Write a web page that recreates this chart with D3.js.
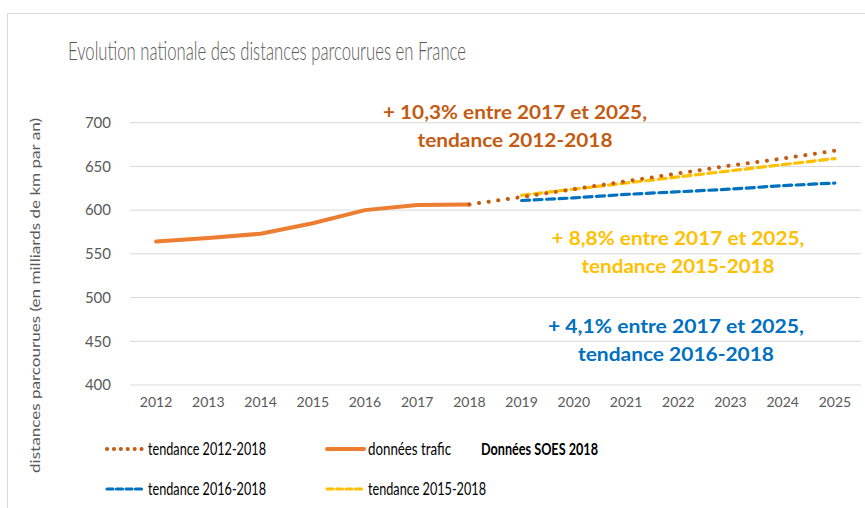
<!DOCTYPE html>
<html>
<head>
<meta charset="utf-8">
<script src="https://cdn.jsdelivr.net/npm/d3@7"></script>
<style>
  body { margin: 0; background: #fff; }
  text { font-family: "Lato", "Open Sans", sans-serif; }
</style>
</head>
<body>
<svg id="chart" width="865" height="508"></svg>
<script>
const years = ['2012', '2013', '2014', '2015', '2016', '2017', '2018', '2019',
  '2020', '2021', '2022', '2023', '2024', '2025'];
const yTicks = [400, 450, 500, 550, 600, 650, 700];

// données trafic 2012-2018
const trafic = [564, 568, 573, 585, 600, 606, 606.5];
// tendances, 2018/2019 -> 2025
const trend1218 = [606.5, 615, 624, 633, 642, 651, 659, 668];
const trend1518 = [617, 624, 631, 638, 645, 652, 659];
const trend1618 = [611, 614, 618, 621, 624, 628, 631];

const series = [
  {name: 'données trafic', start: '2012', values: trafic, color: '#ED7D31', width: 4, dash: null},
  {name: 'tendance 2012-2018', start: '2018', values: trend1218, color: '#C55A11', width: 4, dash: '0.1 9.6'},
  {name: 'tendance 2015-2018', start: '2019', values: trend1518, color: '#FFC000', width: 3.2, dash: '8 4.5'},
  {name: 'tendance 2016-2018', start: '2019', values: trend1618, color: '#0070C0', width: 3.2, dash: '8 4.5'}
];

const notes = [
  {lines: ['+ 10,3% entre 2017 et 2025,', 'tendance 2012-2018'], color: '#C55A11'},
  {lines: ['+ 8,8% entre 2017 et 2025,', 'tendance 2015-2018'], color: '#FFC000'},
  {lines: ['+ 4,1% entre 2017 et 2025,', 'tendance 2016-2018'], color: '#0070C0'}
];

const svg = d3.select('#chart');
const plotLeft = 130, plotRight = 861, plotTop = 122.7, plotBottom = 385;

// Calibri est plus étroite que Lato : on ramène chaque texte à sa largeur
function fit(sel, w) {
  sel.attr('textLength', w).attr('lengthAdjust', 'spacingAndGlyphs');
}

// cadre
svg.append('path')
  .attr('d', 'M7.5,508 V13.5 H865')
  .attr('fill', 'none')
  .attr('stroke', '#d9d9d9')
  .attr('stroke-width', 1);

const x = d3.scaleBand().domain(years).range([plotLeft, plotRight]);
const y = d3.scaleLinear().domain([400, 700]).range([plotBottom, plotTop]);

// grille
svg.append('g')
  .selectAll('line')
  .data(yTicks)
  .join('line')
    .attr('x1', plotLeft).attr('x2', plotRight)
    .attr('y1', d => y(d)).attr('y2', d => y(d))
    .attr('stroke', '#d9d9d9')
    .attr('stroke-width', 1);

const yAxis = svg.append('g')
  .attr('transform', `translate(${plotLeft},0)`)
  .call(d3.axisLeft(y).tickValues(yTicks).tickSize(0).tickPadding(19));
yAxis.select('.domain').remove();
yAxis.selectAll('text')
  .attr('fill', '#595959')
  .style('font-size', '15px')
  .style('font-family', 'Lato, sans-serif');

const xAxis = svg.append('g')
  .attr('transform', `translate(0,${plotBottom})`)
  .call(d3.axisBottom(x).tickSize(0).tickPadding(12));
xAxis.select('.domain').remove();
xAxis.selectAll('text')
  .attr('fill', '#595959')
  .style('font-size', '14px')
  .style('font-family', 'Lato, sans-serif');

// titre
svg.append('text')
  .attr('x', 68).attr('y', 60)
  .attr('fill', '#595959')
  .style('font-size', '26px')
  .style('font-weight', 300)
  .text('Evolution nationale des distances parcourues en France')
  .call(fit, 398);

svg.append('text')
  .attr('transform', 'translate(40,473) rotate(-90)')
  .attr('fill', '#595959')
  .style('font-size', '12.5px')
  .text('distances parcourues (en milliards de km par an)')
  .call(fit, 355);

// courbes
const line = d3.line()
  .x(d => x(d.year) + x.bandwidth() / 2)
  .y(d => y(d.value));

function points(s) {
  const i0 = years.indexOf(s.start);
  return s.values.map((v, i) => ({year: years[i0 + i], value: v}));
}

const drawOrder = [series[2], series[3], series[0], series[1]];
svg.append('g')
  .selectAll('path')
  .data(drawOrder)
  .join('path')
    .attr('d', d => line(points(d)))
    .attr('fill', 'none')
    .attr('stroke', d => d.color)
    .attr('stroke-width', d => d.width)
    .attr('stroke-dasharray', d => d.dash)
    .attr('stroke-linecap', 'round')
    .attr('stroke-linejoin', 'round');

// annotations (position : centre, ligne 1 ; largeurs des deux lignes)
const notePos = [
  {x: 515, y: 112, w: [264, 195]},
  {x: 678, y: 238, w: [253, 193]},
  {x: 676, y: 326, w: [256, 196]}
];
notes.forEach((n, k) => {
  const p = notePos[k];
  n.lines.forEach((t, i) => {
    svg.append('text')
      .attr('x', p.x)
      .attr('y', p.y + i * 28)
      .attr('dy', '0.35em')
      .attr('text-anchor', 'middle')
      .attr('fill', n.color)
      .style('font-size', '19px')
      .style('font-weight', 'bold')
      .text(t)
      .call(fit, p.w[i]);
  });
});

// légende
const legend = [
  {s: series[1], x: 107, y: 449},
  {s: series[0], x: 327, y: 449},
  {s: series[3], x: 107, y: 489},
  {s: series[2], x: 327, y: 489}
];
const lg = svg.append('g')
  .selectAll('g')
  .data(legend)
  .join('g')
    .attr('transform', d => `translate(${d.x},${d.y})`);
lg.append('line')
  .attr('x1', 0).attr('x2', 37)
  .attr('stroke', d => d.s.color)
  .attr('stroke-width', d => d.s.width)
  .attr('stroke-dasharray', d => d.s.dash === '0.1 9.6' ? '0.1 6.8' : (d.s.dash ? '6 3.5' : null))
  .attr('stroke-linecap', 'round');
lg.append('text')
  .attr('x', 41).attr('dy', '0.35em')
  .attr('fill', '#000')
  .style('font-size', '17px')
  .text(d => d.s.name)
  .each(function(d) {
    d3.select(this).call(fit, d.s.name === 'données trafic' ? 83 : 118);
  });

svg.append('text')
  .attr('x', 481).attr('y', 449).attr('dy', '0.35em')
  .attr('fill', '#000')
  .style('font-size', '17px')
  .style('font-weight', 'bold')
  .text('Données SOES 2018')
  .call(fit, 117);
</script>
</body>
</html>
